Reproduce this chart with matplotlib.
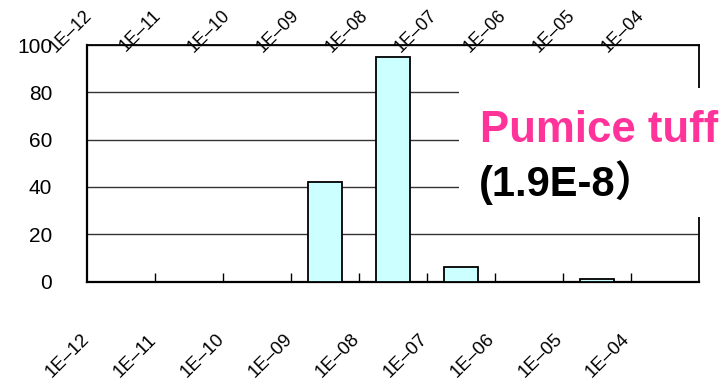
import matplotlib
matplotlib.use("Agg")
import matplotlib.pyplot as plt
from matplotlib.patches import Rectangle
from matplotlib.transforms import blended_transform_factory

# Permeability bins (m/s) and share of samples in each bin (%)
bin_labels = ["1E–12", "1E–11", "1E–10", "1E–09", "1E–08",
              "1E–07", "1E–06", "1E–05", "1E–04"]
frequency = [0, 0, 0, 42, 95, 6.3, 0, 1.2, 0]
y_ticks = [0, 20, 40, 60, 80, 100]
rock_name = "Pumice tuff"
mean_value = "(1.9E-8）"

plt.rcParams["font.family"] = ["Liberation Sans", "DejaVu Sans"]

fig = plt.figure(figsize=(7.21, 3.84), dpi=100)
ax = fig.add_axes([0.1207, 0.2669, 0.8488, 0.6159])

positions = list(range(len(bin_labels)))
ax.bar(positions, frequency, width=0.5, color="#CCFFFF",
       edgecolor="black", linewidth=1.3, zorder=3)

ax.set_xlim(-0.5, len(bin_labels) - 0.5)
ax.set_ylim(0, 100)
ax.set_yticks(y_ticks)
ax.set_yticklabels([str(v) for v in y_ticks], fontsize=15)
ax.tick_params(axis="y", length=0, pad=25)
ax.yaxis.grid(True, color="#333333", linewidth=1.0, zorder=1)

# inward ticks on the bin boundaries
ax.set_xticks([p + 0.5 for p in positions[:-1]])
ax.set_xticklabels([])
ax.tick_params(axis="x", direction="in", length=6.5, width=1.0, color="black")

for side in ["left", "bottom"]:
    ax.spines[side].set_linewidth(1.6)
for side in ["top", "right"]:
    ax.spines[side].set_linewidth(1.3)

# bin labels, rotated, above and below the plot
trans = blended_transform_factory(ax.transAxes, fig.transFigure)
for i, lab in enumerate(bin_labels):
    xt = (71 + 69.0 * i - 87) / 612
    ax.text(xt, 0.919, lab, transform=trans, rotation=45, fontsize=13,
            ha="center", va="center", rotation_mode="anchor", clip_on=False)
    xb = (68 + 67.5 * i - 87) / 612
    ax.text(xb, 0.073, lab, transform=trans, rotation=45, fontsize=13.5,
            ha="center", va="center", rotation_mode="anchor", clip_on=False)

# white label panel over the upper right of the plot
panel = Rectangle((0.6366, 0.4349), 0.37, 0.3359, transform=fig.transFigure,
                  facecolor="white", edgecolor="none", zorder=10, clip_on=False)
ax.add_patch(panel)
fig.text(0.6657, 0.630, rock_name, color="#FF3399", fontsize=31.5,
         fontweight="bold", ha="left", va="baseline", zorder=11)
fig.text(0.6640, 0.4896, mean_value, color="black", fontsize=30,
         fontweight="bold", ha="left", va="baseline", zorder=11,
         family=["Liberation Sans", "Noto Sans CJK JP"])

fig.savefig("out.png", dpi=100)
